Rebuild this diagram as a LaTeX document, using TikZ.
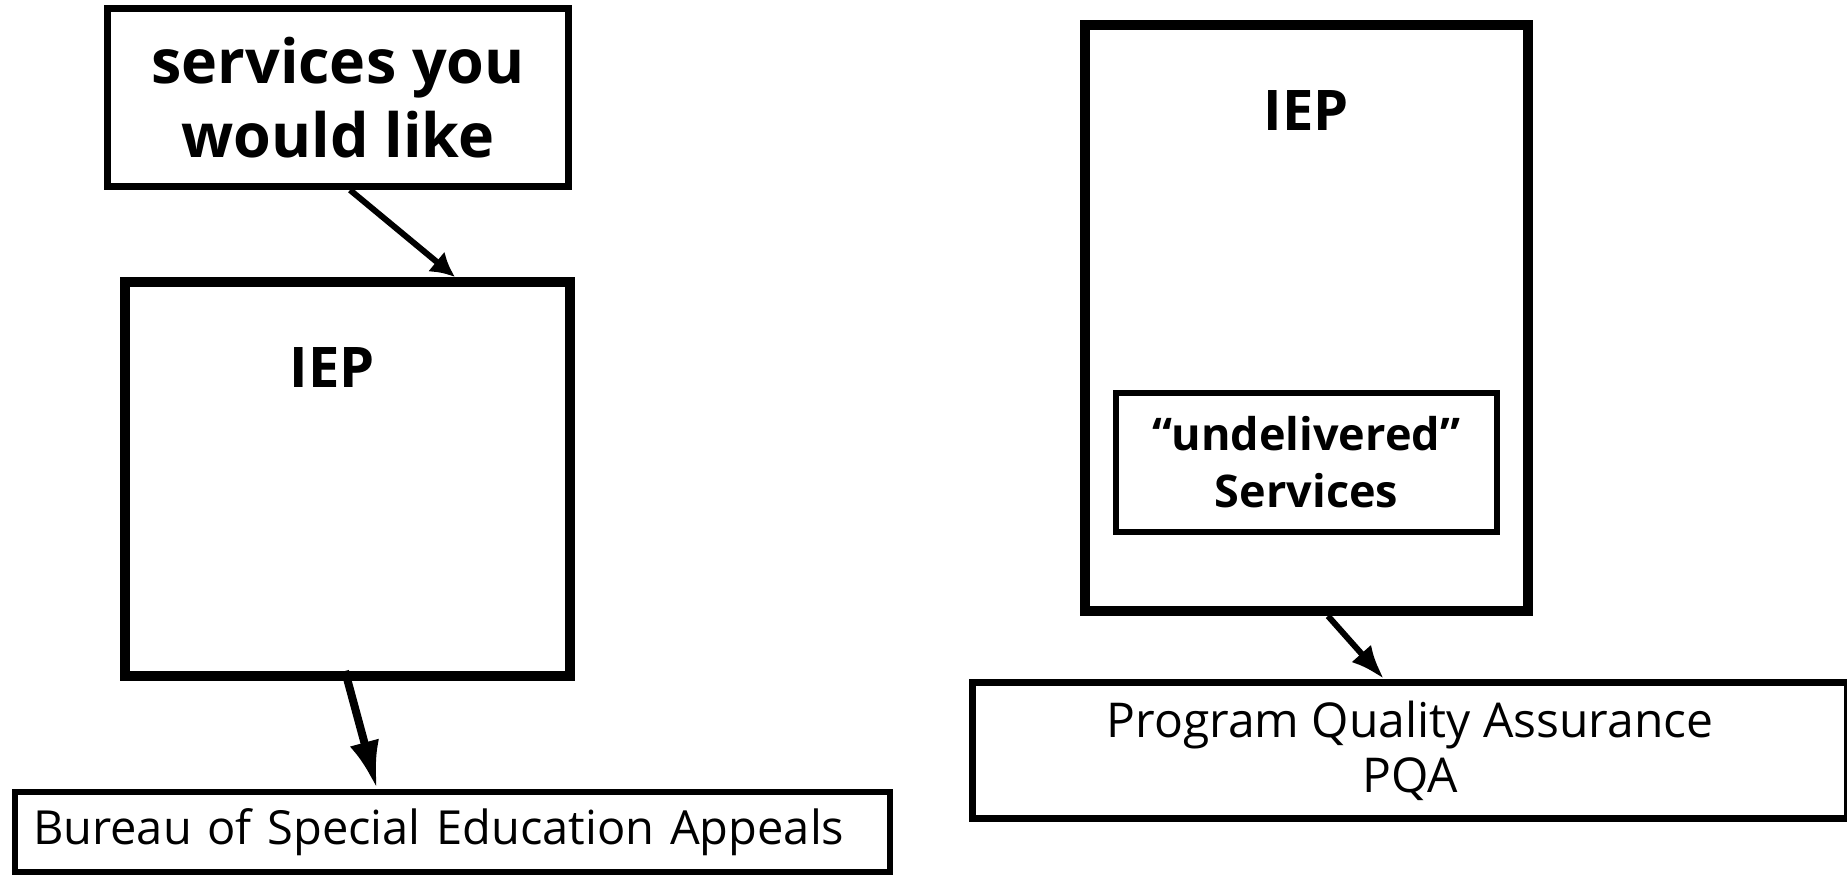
\documentclass[tikz,border=0pt]{standalone}
\usepackage{fontspec}
\setmainfont{Open Sans}
\usetikzlibrary{arrows.meta}
\tikzset{
    box/.style={draw, rectangle, inner sep=0pt, align=center},
    wanttext/.style={font=\fontsize{61}{74}\selectfont\bfseries},
    ieptext/.style={font=\fontsize{56}{70}\selectfont\bfseries},
    undeltext/.style={font=\fontsize{45}{57}\selectfont\bfseries},
    plaintext/.style={font=\fontsize{48}{55}\selectfont},
}

\begin{document}
\begin{tikzpicture}[x=1pt, y=-1pt]
    \useasboundingbox (0,0) rectangle (1847,878);
    \def\xl{347.5};
    \def\xr{1306.5};
    \node[box, wanttext, line width=7pt, minimum width=461pt, minimum height=178pt] at (338, 97.5) (want) {services you\\would like};
    \node[box, line width=10pt, minimum width=445pt, minimum height=394pt] at (\xl, 479) (iepL) {};
    \node[ieptext] at (332, 368) (iepLtxt) {IEP};
    \node[box, plaintext, font=\fontsize{47}{55}\selectfont, line width=6pt, inner xsep=18pt, text width=839pt, align=left, minimum height=80pt] at (452.5, 832) (bsea) {Bureau of Special Education Appeals};
    \node[box, line width=10pt, minimum width=443pt, minimum height=586pt] at (\xr, 318) (iepR) {};
    \node[ieptext] at (\xr, 111) (iepRtxt) {IEP};
    \node[box, undeltext, line width=6pt, minimum width=381pt, minimum height=139pt] at (\xr, 462.5) (undel) {``undelivered''\\Services};
    \node[box, plaintext, line width=7pt, minimum width=875pt, minimum height=136pt] at (1410, 750.5) (pqa) {Program Quality Assurance\\PQA};
    \draw[line width=6pt, -{Latex[length=24pt, width=26pt]}] ([xshift=12pt]want.south) -- ([xshift=107.5pt]iepL.north);
    \draw[line width=8pt, -{Latex[length=48pt, width=30pt]}] ([shift={(-2.5,-10)}]iepL.south) -- ([xshift=-75.5pt]bsea.north);
    \draw[line width=6pt, -{Latex[length=34pt, width=26pt]}] ([xshift=21.5pt]iepR.south) -- ([xshift=-26pt]pqa.north);
\end{tikzpicture}
\end{document}
